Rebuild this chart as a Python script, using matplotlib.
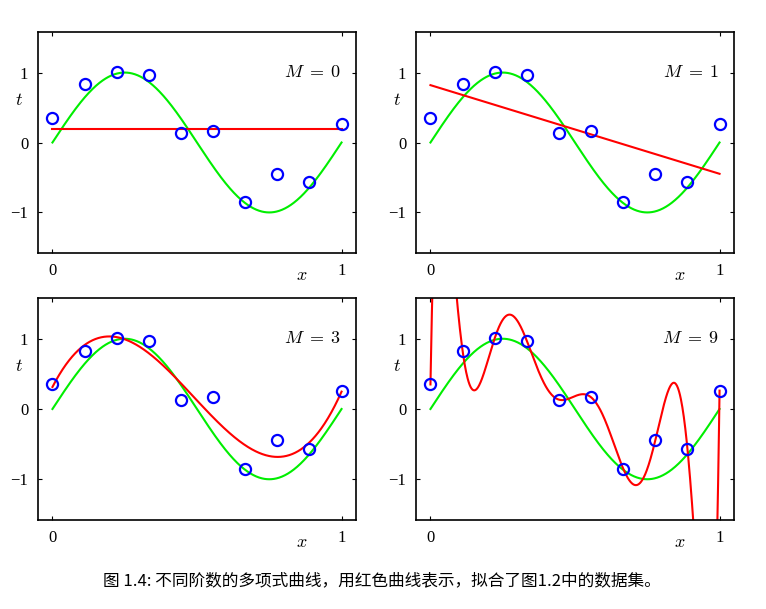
import numpy as np
import matplotlib
matplotlib.use("Agg")
import matplotlib.pyplot as plt

plt.rcParams['font.family'] = ['Liberation Serif', 'DejaVu Serif']
plt.rcParams['mathtext.fontset'] = 'cm'

# data set (fig 1.2)
x_data = [0.0, 0.111111, 0.222222, 0.333333, 0.444444,
          0.555556, 0.666667, 0.777778, 0.888889, 1.0]
t_data = [0.349486, 0.830839, 1.007332, 0.971507, 0.133066,
          0.166823, -0.848307, -0.445686, -0.563567, 0.261502]
orders = [0, 1, 3, 9]
caption = "图 1.4: 不同阶数的多项式曲线，用红色曲线表示，拟合了图1.2中的数据集。"

W, H = 766, 609
fig = plt.figure(figsize=(W / 100, H / 100), dpi=100)

# axes boxes in pixels: left, top, right, bottom
boxes = [(38, 32, 356, 253), (416, 32, 734, 253),
         (38, 298, 356, 520), (416, 298, 734, 520)]

xs = np.linspace(0, 1, 600)
for M, (l, t, r, b) in zip(orders, boxes):
    ax = fig.add_axes([l / W, 1 - b / H, (r - l) / W, (b - t) / H])
    ax.plot(xs, np.sin(2 * np.pi * xs), color='#00ee00', lw=1.5)
    p = np.polynomial.Polynomial.fit(x_data, t_data, M)
    ax.plot(xs, p(xs), color='#ff0000', lw=1.5)
    ax.plot(x_data, t_data, 'o', mfc='none', mec='#0000ff', mew=1.6, ms=8)
    ax.set_xlim(-0.05, 1.05)
    ax.set_ylim(-1.58, 1.58)
    ax.set_xticks([0, 1])
    ax.set_yticks([-1, 0, 1])
    ax.set_xticklabels(['0', '1'])
    ax.set_yticklabels(['\u22121', '0', '1'])
    ax.tick_params(direction='in', top=True, right=True, length=3,
                   labelsize=12, pad=7)
    for s in ax.spines.values():
        s.set_linewidth(1.2)
    ax.text(0.9, 1.0, r'$M\;=\;%d$' % M, ha='center', va='center', fontsize=13)
    ax.text(0.83, -0.065, r'$x$', transform=ax.transAxes, ha='center',
            va='top', fontsize=13)
    ax.text(-0.06, 0.6, r'$t$', ha='center', va='center', fontsize=13,
            transform=ax.get_yaxis_transform())

fig.text(103 / W, 1 - 581 / H, caption, ha='left', va='center', fontsize=12,
         family=['Noto Sans CJK SC', 'DejaVu Sans'])

fig.savefig('out.png', dpi=100, facecolor='white')
